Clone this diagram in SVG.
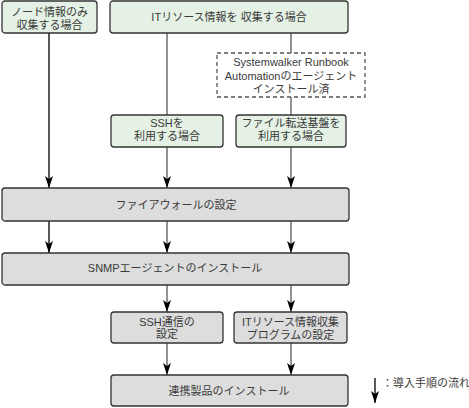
<svg xmlns="http://www.w3.org/2000/svg" width="469" height="408" viewBox="0 0 469 408">
<defs>
<marker id="ah" viewBox="0 0 12 8" markerWidth="12" markerHeight="8" refX="12" refY="4" orient="auto" markerUnits="userSpaceOnUse">
<path d="M0,0 L3,4 L0,8 L12,4 Z" fill="#000"/>
</marker>
<style>
.g{fill:#e4f1e4;stroke:#333;stroke-width:1.3}
.k{fill:#dcdddc;stroke:#333;stroke-width:1.3}
.d{fill:#fff;stroke:#555;stroke-width:1.3;stroke-dasharray:4,3}
text{font-family:"Liberation Sans","Noto Sans CJK JP",sans-serif;font-size:11px;fill:#3a3a3a;text-anchor:middle}
.b{stroke:#000;stroke-width:1.3;fill:none}
.y{stroke:#777;stroke-width:1.6;fill:none}
</style>
</defs>
<g id="connectors">
<line class="b" x1="49" y1="33" x2="49" y2="188" marker-end="url(#ah)"/>
<line class="b" x1="49" y1="221" x2="49" y2="253" marker-end="url(#ah)"/>
<line class="y" x1="167" y1="33" x2="167" y2="115"/>
<line class="y" x1="167" y1="147" x2="167" y2="188" marker-end="url(#ah)"/>
<line class="y" x1="167" y1="221" x2="167" y2="253" marker-end="url(#ah)"/>
<line class="y" x1="167" y1="285" x2="167" y2="312" marker-end="url(#ah)"/>
<line class="y" x1="167" y1="343" x2="167" y2="375" marker-end="url(#ah)"/>
<line class="y" x1="291" y1="33" x2="291" y2="53"/>
<line class="y" x1="291" y1="97" x2="291" y2="115"/>
<line class="y" x1="291" y1="147" x2="291" y2="188" marker-end="url(#ah)"/>
<line class="y" x1="291" y1="221" x2="291" y2="253" marker-end="url(#ah)"/>
<line class="y" x1="291" y1="285" x2="291" y2="312" marker-end="url(#ah)"/>
<line class="y" x1="291" y1="343" x2="291" y2="375" marker-end="url(#ah)"/>
</g>
<g id="node-only">
<rect class="g" x="2" y="1" width="95" height="32" rx="3"/>
<text x="49.5" y="16">ノード情報のみ</text>
<text x="49.5" y="29">収集する場合</text>
</g>
<g id="it-resource">
<rect class="g" x="110" y="1" width="238" height="32" rx="3"/>
<text x="229" y="21">ITリソース情報を 収集する場合</text>
</g>
<g id="agent-installed">
<rect class="d" x="217" y="53" width="148" height="44"/>
<text x="291" y="66">Systemwalker Runbook</text>
<text x="291" y="80">Automationのエージェント</text>
<text x="291" y="93">インストール済</text>
</g>
<g id="ssh-use">
<rect class="g" x="111" y="115" width="112" height="32" rx="3"/>
<text x="167" y="127">SSHを</text>
<text x="167" y="140">利用する場合</text>
</g>
<g id="file-transfer">
<rect class="g" x="236" y="115" width="110" height="32" rx="3"/>
<text x="291" y="127">ファイル転送基盤を</text>
<text x="291" y="140">利用する場合</text>
</g>
<g id="firewall">
<rect class="k" x="2" y="188" width="347" height="33" rx="3"/>
<text x="176" y="209">ファイアウォールの設定</text>
</g>
<g id="snmp">
<rect class="k" x="2" y="253" width="347" height="32" rx="3"/>
<text x="175" y="272">SNMPエージェントのインストール</text>
</g>
<g id="ssh-setting">
<rect class="k" x="111" y="312" width="112" height="31" rx="3"/>
<text x="167" y="326">SSH通信の</text>
<text x="167" y="338">設定</text>
</g>
<g id="it-program">
<rect class="k" x="234" y="312" width="113" height="31" rx="3"/>
<text x="290.5" y="326">ITリソース情報収集</text>
<text x="290.5" y="339">プログラムの設定</text>
</g>
<g id="install">
<rect class="k" x="111" y="375" width="237" height="31" rx="3"/>
<text x="229" y="395">連携製品のインストール</text>
</g>
<g id="legend">
<line class="b" x1="375" y1="378" x2="375" y2="403" marker-end="url(#ah)"/>
<text x="382" y="387" style="text-anchor:start">：導入手順の流れ</text>
</g>
</svg>
